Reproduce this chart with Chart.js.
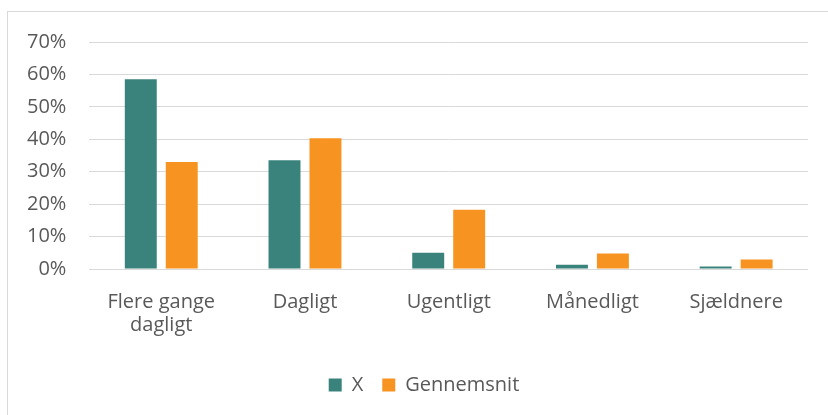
<!DOCTYPE html>
<html>
<head>
<meta charset="utf-8">
<script src="https://cdn.jsdelivr.net/npm/chart.js@4.4.1/dist/chart.umd.min.js"></script>
<style>
    body { margin: 0; background: #fff; }
    #frame {
        position: absolute;
        left: 7px;
        top: 11px;
        width: 830px;
        height: 420px;
        border-left: 1px solid #d9d9d9;
        border-top: 1px solid #d9d9d9;
    }
    #wrap { position: absolute; left: 0; top: 0; width: 828px; height: 415px; }
</style>
</head>
<body>
<div id="frame"></div>
<div id="wrap"><canvas id="chart-canvas"></canvas></div>
<script>
const categories = [['Flere gange', 'dagligt'], 'Dagligt', 'Ugentligt', 'Månedligt', 'Sjældnere']
const seriesX = [58.5, 33.5, 5.0, 1.3, 0.8]
const seriesAverage = [33.0, 40.3, 18.3, 4.8, 2.9]
const seriesNames = ['X', 'Gennemsnit']
const yTicks = [0, 10, 20, 30, 40, 50, 60, 70]

const textColor = '#595959'
const chartCanvas = document.querySelector('#chart-canvas')

Chart.defaults.font.family = '"Open Sans", sans-serif'
Chart.defaults.font.size = 20
Chart.defaults.color = textColor

// legend sits a bit right of the canvas centre in the original
const legendShift = {
    id: 'legendShift',
    afterLayout(chart) {
        chart.legend.left += 18
        chart.legend.right += 18
    }
}

new Chart(chartCanvas, {
    type: 'bar',
    data: {
        labels: categories,
        datasets: [
            {
                label: seriesNames[0],
                data: seriesX,
                backgroundColor: '#3a837c',
                categoryPercentage: 0.57,
                barPercentage: 0.78
            },
            {
                label: seriesNames[1],
                data: seriesAverage,
                backgroundColor: '#f79320',
                categoryPercentage: 0.57,
                barPercentage: 0.78
            }
        ]
    },
    plugins: [legendShift],
    options: {
        responsive: true,
        maintainAspectRatio: false,
        animation: false,
        layout: {
            padding: { top: 42, left: 4, right: 20, bottom: 10 }
        },
        plugins: {
            legend: {
                position: 'bottom',
                labels: {
                    boxWidth: 13,
                    boxHeight: 13,
                    padding: 19,
                    font: { size: 20 }
                }
            },
            tooltip: { enabled: false }
        },
        scales: {
            x: {
                grid: { display: false },
                border: { display: false },
                afterFit: scale => {
                    scale.height += 5
                },
                ticks: {
                    padding: 14,
                    font: { size: 20, lineHeight: 1.15 },
                    maxRotation: 0
                }
            },
            y: {
                min: 0,
                max: 70,
                afterBuildTicks: axis => {
                    axis.ticks = yTicks.map(value => ({ value }))
                },
                grid: {
                    color: '#d9d9d9',
                    lineWidth: 1,
                    drawTicks: false
                },
                border: { display: false },
                ticks: {
                    padding: 23,
                    font: { size: 20 },
                    callback: value => value + '%'
                }
            }
        }
    }
})
</script>
</body>
</html>
